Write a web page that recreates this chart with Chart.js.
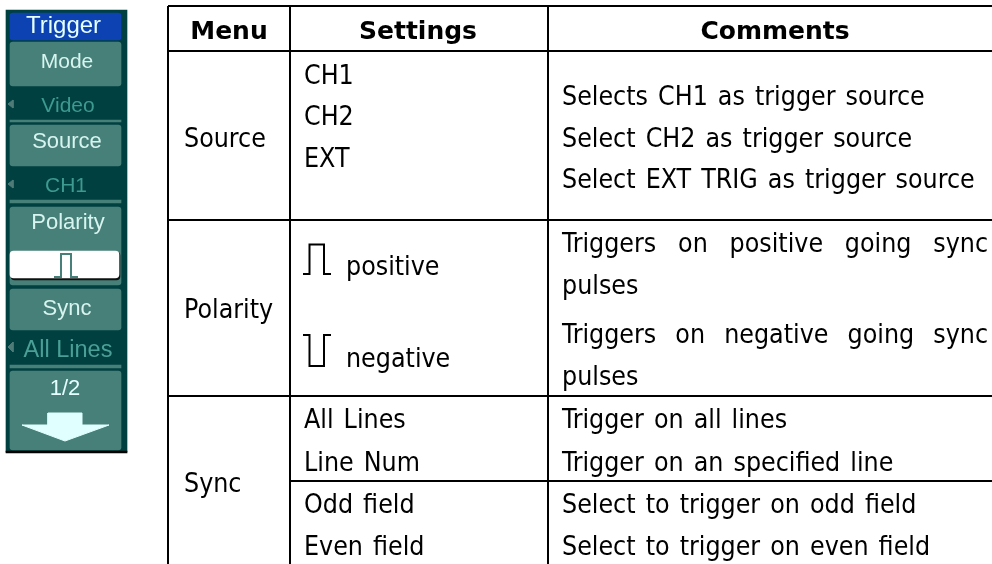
<!DOCTYPE html>
<html>
<head>
<meta charset="utf-8">
<style>
html, body { margin: 0; padding: 0; background: #fff; }
canvas { display: block; }
</style>
<script src="https://cdn.jsdelivr.net/npm/chart.js@4"></script>
</head>
<body>
<canvas id="chart" width="992" height="564"></canvas>
<script>
// table text
const headers = ["Menu", "Settings", "Comments"];
const menuLabels = ["Source", "Polarity", "Sync"];
const settingLabels = ["CH1", "CH2", "EXT", "positive", "negative", "All Lines", "Line Num", "Odd field", "Even field"];
const commentLabels = [
    "Selects CH1 as trigger source",
    "Select CH2 as trigger source",
    "Select EXT TRIG as trigger source",
    "Triggers on positive going sync",
    "pulses",
    "Triggers on negative going sync",
    "pulses",
    "Trigger on all lines",
    "Trigger on an specified line",
    "Select to trigger on odd field",
    "Select to trigger on even field"
];
const softLabels = ["Trigger", "Mode", "Video", "Source", "CH1", "Polarity", "Sync", "All Lines", "1/2"];

// where things sit on the two axes (axes run 0-992 and 0-564)
const headerX = [229, 418, 775];
const headerY = 39;
const menuX = 184;
const menuY = [147, 318, 492];
const settingX = [304, 304, 304, 346, 346, 304, 304, 304, 304];
const settingY = [84, 125, 167, 275, 367, 428, 471, 513, 555];
const commentX = 562;
const commentY = [105, 147, 188, 252, 294, 343, 385, 428, 471, 513, 555];
const justifyTo = [null, null, null, 988, null, 988, null, null, null, null, null];
const softX = [63.5, 67, 68, 67, 66, 68, 67, 68, 65];
const softY = [33, 68, 112, 148, 192, 229, 315, 357, 395];
const softSize = [24, 21, 21, 22, 21, 22, 22, 23.5, 22];
const softColor = ["#e6ffff", "#d8f4f0", "#3d9a90", "#d8f4f0", "#3d9a90", "#d8f4f0", "#d8f4f0", "#4aa096", "#e6ffff"];

const ruleH = [[168, 992, 6], [168, 992, 51], [168, 992, 220], [168, 992, 396], [290, 992, 481]];
const ruleV = [[168, 6, 564], [290, 6, 564], [548, 6, 564]];
const posPulseX = [303, 309.5, 309.5, 324, 324, 331];
const posPulseY = [274, 274, 244.5, 244.5, 274, 274];
const negPulseX = [303, 309.5, 309.5, 324, 324, 331];
const negPulseY = [335, 335, 366, 366, 335, 335];

// softkey panel: [left, right, top, bottom, colour, corner]
const panels = [
    [6, 127, 10, 452, "#004040", 0],
    [10, 121, 13, 40, "#0c42b2", 3],
    [10, 121, 42, 86, "#468078", 3],
    [10, 121, 120, 122, "#468078", 0],
    [10, 121, 125, 166, "#468078", 3],
    [10, 121, 200, 203, "#468078", 0],
    [10, 121, 207, 285, "#468078", 3],
    [10, 121, 289, 330, "#468078", 3],
    [10, 121, 365, 368, "#468078", 0],
    [10, 121, 371, 450, "#468078", 3],
    [11, 120, 252, 280, "#101010", 4],
    [10, 119, 251, 278, "#ffffff", 4],
    [6, 127, 451, 453, "#000000", 0]
];
const softPulseX = [54, 61, 61, 71, 71, 78];
const softPulseY = [277, 277, 254, 254, 277, 277];
const softArrowX = [48, 48, 22, 65, 109, 82, 82, 48];
const softArrowY = [413, 425, 425, 441, 425, 425, 413, 413];
const softMarkerX = [8, 13, 13, 8];
const softMarkerY = [[104, 100, 108, 104], [184, 180, 188, 184], [347, 342, 352, 347]];

const bodyFont = "condensed 26.5px 'DejaVu Sans'";
const boldFont = "bold 25px 'DejaVu Sans'";

function toPoints(xs, ys) {
    return xs.map((x, i) => ({ x: x, y: ys[i] }));
}

function lineSet(points, color, width, fill) {
    return {
        type: "scatter",
        showLine: true,
        data: points,
        borderColor: color,
        backgroundColor: color,
        borderWidth: width,
        borderJoinStyle: "miter",
        pointRadius: 0,
        fill: fill ? "shape" : false,
        tension: 0
    };
}

const panelSets = panels.map((p) => ({
    type: "bar",
    grouped: false,
    data: [{ x: [p[0], p[1]], y: (p[2] + p[3]) / 2 }],
    backgroundColor: p[4],
    borderRadius: p[5],
    borderSkipped: false,
    barThickness: p[3] - p[2]
}));

const lineSets = [
    lineSet(toPoints(softPulseX, softPulseY), "#468078", 2),
    lineSet(toPoints(softArrowX, softArrowY), "#e0ffff", 1, true)
];
softMarkerY.forEach((ys) => lineSets.push(lineSet(toPoints(softMarkerX, ys), "#4f7a78", 1, true)));
ruleH.forEach((r) => lineSets.push(lineSet([{ x: r[0], y: r[2] }, { x: r[1], y: r[2] }], "#000000", 2)));
ruleV.forEach((r) => lineSets.push(lineSet([{ x: r[0], y: r[1] }, { x: r[0], y: r[2] }], "#000000", 2)));
lineSets.push(lineSet(toPoints(posPulseX, posPulseY), "#000000", 2));
lineSets.push(lineSet(toPoints(negPulseX, negPulseY), "#000000", 2));

const textPlugin = {
    id: "tableText",
    afterDatasetsDraw(chart) {
        const ctx = chart.ctx;
        const sx = chart.scales.x;
        const sy = chart.scales.y;
        ctx.save();
        ctx.textBaseline = "alphabetic";
        ctx.fillStyle = "#000";

        ctx.font = boldFont;
        ctx.textAlign = "center";
        headers.forEach((t, i) => ctx.fillText(t, sx.getPixelForValue(headerX[i]), sy.getPixelForValue(headerY)));

        ctx.font = bodyFont;
        ctx.textAlign = "left";
        ctx.wordSpacing = "2.5px";
        menuLabels.forEach((t, i) => ctx.fillText(t, sx.getPixelForValue(menuX), sy.getPixelForValue(menuY[i])));
        settingLabels.forEach((t, i) => ctx.fillText(t, sx.getPixelForValue(settingX[i]), sy.getPixelForValue(settingY[i])));
        commentLabels.forEach((t, i) => {
            // the justified lines get wider word gaps
            ctx.wordSpacing = "2.5px";
            if (justifyTo[i]) {
                const gaps = t.split(" ").length - 1;
                ctx.wordSpacing = "0px";
                const spare = justifyTo[i] - commentX - ctx.measureText(t).width;
                ctx.wordSpacing = (spare / gaps) + "px";
            }
            ctx.fillText(t, sx.getPixelForValue(commentX), sy.getPixelForValue(commentY[i]));
        });
        ctx.wordSpacing = "0px";

        ctx.textAlign = "center";
        softLabels.forEach((t, i) => {
            ctx.font = softSize[i] + "px 'Liberation Sans'";
            ctx.fillStyle = softColor[i];
            ctx.fillText(t, sx.getPixelForValue(softX[i]), sy.getPixelForValue(softY[i]));
        });
        ctx.restore();
    }
};

// the library paints the first dataset on top, so the back layers go last
new Chart("chart", {
    type: "bar",
    data: { datasets: lineSets.concat(panelSets.reverse()) },
    options: {
        responsive: false,
        animation: false,
        indexAxis: "y",
        layout: { padding: 0 },
        plugins: { legend: { display: false }, tooltip: { enabled: false } },
        scales: {
            x: { type: "linear", min: 0, max: 992, offset: false, display: false },
            y: { type: "linear", min: 0, max: 564, reverse: true, offset: false, display: false }
        }
    },
    plugins: [textPlugin]
});
</script>
</body>
</html>
